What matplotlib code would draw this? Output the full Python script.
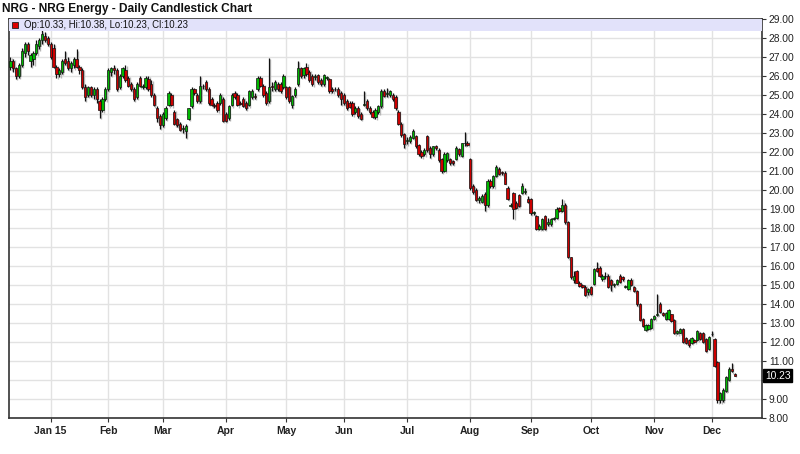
import numpy as np
import pandas as pd
import matplotlib
matplotlib.use("Agg")
import matplotlib.pyplot as plt
import matplotlib.transforms as mtransforms

plt.rcParams['font.family'] = ['Liberation Sans', 'DejaVu Sans']

title = "NRG - NRG Energy - Daily Candlestick Chart"
legend_text = "Op:10.33, Hi:10.38, Lo:10.23, Cl:10.23"
last_price = 10.23

holidays = ["2014-12-25", "2015-01-01", "2015-01-19", "2015-02-16", "2015-04-03",
            "2015-05-25", "2015-07-03", "2015-09-07", "2015-11-26"]
dates = pd.bdate_range("2014-12-11", "2015-12-11")
dates = dates[~dates.isin(pd.to_datetime(holidays))]

opens = [
    26.5, 26.8, 26.4, 26.0, 26.6, 27.2, 27.7, 26.8, 26.9, 27.2,
    27.6, 27.9, 28.1, 28.0, 27.7, 27.5, 26.5, 26.1, 26.2, 26.9,
    26.8, 26.4, 26.6, 26.9, 26.5, 26.3, 25.4, 25.0, 25.4, 25.0,
    25.3, 24.7, 24.2, 24.8, 25.3, 26.2, 26.4, 26.3, 25.4, 26.0,
    26.3, 25.9, 25.6, 25.3, 24.9, 25.9, 25.4, 25.4, 25.85, 25.6,
    25.0, 24.3, 23.9, 23.4, 23.8, 24.5, 25.0, 24.1, 23.75, 23.5,
    23.2, 23.1, 23.75, 24.4, 25.3, 25.0, 24.7, 25.5, 25.7, 25.3,
    24.8, 24.5, 24.6, 24.6, 24.8, 24.0, 23.8, 24.5, 25.1, 25.0,
    24.6, 24.8, 24.6, 24.5, 24.9, 24.95, 25.3, 25.9, 25.5, 25.1,
    24.7, 25.5, 25.3, 25.6, 25.6, 25.4, 25.4, 25.4, 24.5, 25.0,
    25.6, 26.4, 26.05, 26.5, 26.2, 26.0, 25.95, 26.05, 25.8, 25.6,
    25.9, 25.85, 25.3, 25.3, 25.3, 25.1, 25.0, 24.7, 24.6, 24.6,
    24.1, 24.3, 24.0, 24.5, 24.7, 24.3, 24.1, 23.85, 24.1, 24.4,
    25.2, 25.05, 25.0, 25.0, 24.9, 24.1, 23.5, 22.95, 22.6, 22.6,
    22.75, 22.85, 22.35, 22.0, 21.9, 22.85, 22.2, 21.9, 22.3, 22.1,
    21.65, 21.0, 21.6, 21.65, 21.55, 21.65, 22.15, 21.8, 22.45, 22.45,
    21.65, 20.2, 20.0, 19.45, 19.35, 19.8, 19.2, 20.5, 20.2, 20.75,
    21.1, 20.95, 20.9, 20.1, 19.15, 19.85, 19.3, 19.75, 19.85, 19.9,
    19.55, 19.55, 18.8, 18.65, 17.95, 17.95, 18.65, 18.2, 18.2, 18.5,
    18.55, 19.05, 18.9, 19.2, 18.3, 16.45, 15.25, 15.75, 15.1, 15.0,
    14.9, 14.65, 14.9, 15.05, 15.9, 15.9, 15.3, 15.45, 15.5, 15.25,
    15.0, 15.05, 15.45, 15.4, 14.9, 14.8, 15.25, 14.9, 14.7, 14.0,
    13.2, 12.65, 12.7, 12.75, 13.2, 13.4, 14.0, 13.55, 13.2, 13.2,
    13.45, 13.15, 12.45, 12.5, 12.7, 12.2, 12.1, 11.95, 12.1, 12.1,
    12.5, 12.5, 12.15, 11.65, 12.4, 12.15, 10.95, 8.95, 8.95, 9.4,
    10.0, 10.6, 10.33,
]
highs = [
    27.0, 26.9, 26.5, 26.7, 27.5, 27.8, 27.8, 27.2, 27.3, 27.9,
    28.0, 28.4, 28.3, 28.1, 27.8, 27.7, 26.6, 26.4, 26.9, 27.3,
    27.0, 26.8, 27.0, 27.4, 26.6, 26.4, 25.6, 25.5, 25.5, 25.4,
    25.4, 24.8, 24.9, 25.4, 26.4, 26.5, 26.6, 26.4, 26.1, 26.5,
    26.6, 26.0, 25.7, 25.4, 25.7, 26.0, 25.6, 26.0, 26.0, 25.8,
    25.1, 24.4, 24.0, 24.1, 24.4, 25.2, 25.1, 24.2, 23.8, 23.6,
    23.4, 23.5, 24.3, 25.4, 25.35, 25.1, 26.0, 25.6, 25.8, 25.4,
    24.9, 24.6, 24.7, 25.1, 24.9, 24.1, 24.5, 25.1, 25.2, 25.1,
    24.7, 24.9, 24.7, 25.25, 25.3, 25.1, 26.0, 26.0, 25.6, 25.2,
    26.95, 25.7, 25.8, 25.7, 25.7, 26.1, 25.5, 25.5, 25.0, 25.4,
    26.8, 26.5, 26.5, 26.7, 26.3, 26.1, 26.1, 26.1, 25.9, 26.1,
    26.0, 25.9, 25.4, 25.4, 25.4, 25.2, 25.1, 24.8, 24.7, 24.7,
    24.4, 24.4, 24.1, 25.2, 24.8, 24.4, 24.2, 24.3, 24.5, 25.3,
    25.3, 25.35, 25.25, 25.1, 25.0, 24.2, 23.6, 23.0, 22.8, 22.9,
    23.2, 22.9, 22.4, 22.1, 22.2, 22.9, 22.3, 22.3, 22.35, 22.2,
    21.7, 22.0, 22.0, 21.7, 21.6, 22.3, 22.2, 22.5, 23.05, 22.6,
    21.7, 20.3, 20.1, 19.7, 19.8, 19.9, 20.6, 20.6, 20.8, 21.3,
    21.2, 21.0, 21.0, 20.2, 19.3, 19.9, 19.4, 19.8, 20.35, 20.1,
    19.7, 19.6, 18.9, 18.7, 18.2, 18.55, 18.7, 18.55, 18.55, 18.6,
    19.1, 19.1, 19.55, 19.3, 18.35, 16.5, 15.75, 15.8, 15.2, 15.05,
    15.0, 14.85, 14.95, 15.9, 16.2, 16.0, 15.6, 15.7, 15.6, 15.3,
    15.1, 15.3, 15.6, 15.5, 15.0, 15.3, 15.35, 14.95, 14.75, 14.05,
    13.25, 12.95, 12.95, 13.25, 13.4, 14.55, 14.1, 13.6, 13.6, 13.75,
    13.5, 13.2, 12.65, 12.75, 12.75, 12.25, 12.15, 12.25, 12.15, 12.65,
    12.55, 12.55, 12.2, 12.3, 12.6, 12.2, 11.0, 9.35, 9.6, 10.2,
    10.7, 10.9, 10.38,
]
lows = [
    26.3, 26.2, 25.85, 25.9, 26.5, 27.0, 27.1, 26.5, 26.6, 27.1,
    27.4, 27.7, 27.8, 27.6, 26.9, 26.4, 25.9, 25.95, 26.1, 26.6,
    26.3, 26.2, 26.4, 26.4, 26.1, 25.3, 24.7, 24.9, 24.9, 24.8,
    24.6, 23.8, 24.1, 24.7, 25.2, 26.0, 26.1, 25.2, 25.3, 25.9,
    25.7, 25.4, 25.2, 24.7, 24.8, 25.4, 25.3, 25.3, 25.2, 24.9,
    24.4, 23.6, 23.2, 23.3, 23.7, 24.4, 24.4, 23.4, 23.3, 23.1,
    23.0, 22.75, 23.7, 24.3, 25.0, 24.6, 24.6, 25.3, 25.2, 24.5,
    24.4, 24.3, 24.1, 24.5, 23.6, 23.6, 23.7, 24.4, 24.8, 24.4,
    24.5, 24.35, 24.2, 24.4, 24.8, 24.8, 25.2, 25.4, 24.9, 24.5,
    24.6, 25.2, 25.2, 25.2, 25.1, 25.3, 24.8, 24.6, 24.3, 24.9,
    25.5, 25.9, 25.9, 26.0, 25.7, 25.5, 25.8, 25.6, 25.5, 25.5,
    25.8, 25.1, 25.1, 25.2, 24.9, 24.5, 24.5, 24.2, 24.3, 23.9,
    24.0, 23.8, 23.7, 24.4, 24.2, 24.0, 23.8, 23.75, 24.0, 24.3,
    24.9, 24.9, 24.9, 24.7, 24.2, 23.4, 22.8, 22.2, 22.4, 22.5,
    22.7, 22.2, 21.8, 21.7, 21.8, 22.0, 21.7, 21.8, 22.1, 21.5,
    20.9, 20.95, 21.5, 21.3, 21.3, 21.6, 21.8, 21.75, 22.3, 22.3,
    20.0, 19.8, 19.4, 19.3, 19.3, 18.9, 19.1, 20.1, 20.1, 20.7,
    20.8, 20.8, 20.3, 19.5, 19.1, 18.5, 19.0, 19.1, 19.8, 19.8,
    19.3, 18.7, 18.7, 17.9, 17.9, 17.9, 17.9, 18.1, 18.1, 18.4,
    18.5, 18.85, 18.85, 18.2, 16.4, 15.3, 15.1, 15.1, 14.9, 14.85,
    14.4, 14.5, 14.5, 15.0, 15.7, 15.4, 15.2, 15.3, 14.85, 14.7,
    14.9, 15.0, 15.1, 15.2, 14.85, 14.75, 14.95, 14.65, 13.9, 13.1,
    12.8, 12.6, 12.65, 12.7, 13.15, 13.35, 13.55, 13.35, 13.15, 13.15,
    13.05, 12.4, 12.4, 12.45, 11.95, 11.9, 11.75, 11.9, 11.95, 12.05,
    12.1, 11.95, 11.5, 11.6, 12.3, 10.7, 8.8, 8.8, 8.85, 9.35,
    9.95, 10.4, 10.23,
]
closes = [
    26.8, 26.4, 26.0, 26.6, 27.3, 27.7, 27.3, 27.1, 27.2, 27.7,
    27.9, 28.2, 27.9, 27.7, 27.0, 26.5, 26.1, 26.3, 26.8, 26.7,
    26.4, 26.7, 26.9, 26.5, 26.3, 25.4, 24.9, 25.4, 25.0, 25.3,
    24.8, 24.2, 24.8, 25.3, 26.3, 26.4, 26.3, 25.3, 26.0, 26.4,
    25.8, 25.5, 25.3, 24.8, 25.6, 25.5, 25.45, 25.9, 25.3, 25.0,
    24.5, 23.8, 23.4, 24.0, 24.3, 25.1, 24.5, 23.5, 23.4, 23.15,
    23.2, 23.35, 24.3, 25.3, 25.1, 24.7, 25.5, 25.45, 25.3, 24.6,
    24.5, 24.4, 24.2, 25.0, 23.65, 23.65, 24.4, 25.0, 24.9, 24.5,
    24.55, 24.4, 24.3, 25.2, 25.2, 24.9, 25.9, 25.5, 25.0, 24.6,
    25.4, 25.4, 25.7, 25.3, 25.2, 26.0, 24.9, 24.7, 24.95, 25.3,
    26.4, 26.0, 26.4, 26.1, 25.8, 25.6, 25.95, 25.7, 25.6, 26.05,
    25.9, 25.2, 25.2, 25.3, 25.0, 24.8, 24.6, 24.3, 24.35, 24.0,
    24.3, 23.9, 23.75, 24.55, 24.3, 24.1, 23.85, 24.2, 24.4, 25.2,
    24.95, 25.05, 25.2, 24.8, 24.3, 23.5, 22.9, 22.4, 22.6, 22.8,
    23.1, 22.3, 21.9, 21.8, 22.1, 22.1, 21.9, 22.3, 22.2, 21.6,
    21.0, 21.9, 21.95, 21.4, 21.4, 22.2, 21.9, 22.45, 22.5, 22.35,
    20.1, 19.9, 19.45, 19.6, 19.7, 19.2, 20.5, 20.2, 20.75, 21.2,
    20.85, 20.9, 20.3, 19.55, 19.2, 19.0, 19.05, 19.15, 20.2, 19.9,
    19.35, 18.8, 18.85, 17.95, 18.1, 18.5, 17.95, 18.3, 18.5, 18.5,
    19.0, 18.9, 19.2, 18.3, 16.45, 15.4, 15.5, 15.1, 14.95, 14.9,
    14.45, 14.8, 14.55, 15.85, 15.75, 15.45, 15.5, 15.45, 14.9, 15.0,
    15.05, 15.25, 15.15, 15.3, 14.9, 15.25, 15.0, 14.7, 14.0, 13.15,
    12.85, 12.9, 12.9, 13.2, 13.35, 13.5, 13.6, 13.4, 13.55, 13.7,
    13.1, 12.45, 12.6, 12.7, 12.0, 11.95, 11.85, 12.2, 12.0, 12.6,
    12.15, 12.0, 11.55, 12.25, 12.4, 10.75, 8.95, 9.3, 9.5, 10.15,
    10.6, 10.45, 10.23,
]

month_labels = ["Jan 15", "Feb", "Mar", "Apr", "May", "Jun",
                "Jul", "Aug", "Sep", "Oct", "Nov", "Dec"]
y_ticks = list(range(8, 30))

n = len(closes)
o = np.array(opens); h = np.array(highs); l = np.array(lows); c = np.array(closes)
x = np.arange(n)

fig = plt.figure(figsize=(8.0, 4.54), dpi=100)
ax = fig.add_axes([9 / 800, 1 - 418 / 454, 753 / 800, 399 / 454])

ax.set_xlim(-0.5, 261.5)
ax.set_ylim(8, 29)

# month ticks
month_pos = []
for m in range(1, 13):
    idx = np.where((dates.year == 2015) & (dates.month == m))[0][0]
    month_pos.append(idx)
ax.set_xticks(month_pos)
ax.set_xticklabels(month_labels, fontweight='bold', fontsize=7.5, color='#222222')
ax.set_yticks(y_ticks)
ax.set_yticklabels(["" if v == 10 else f"{v:.2f}" for v in y_ticks], fontsize=7.4, color='#222222')
ax.yaxis.tick_right()
ax.tick_params(axis='y', length=3, width=0.8, color='#333333', pad=2)
ax.tick_params(axis='x', length=3, width=0.8, color='#333333', pad=3)
ax.grid(True, color='#e2e2e2', linewidth=1.0, zorder=0)
ax.set_axisbelow(True)
for s in ax.spines.values():
    s.set_color('#333333')
    s.set_linewidth(1.2)

up = c >= o
body_lo = np.minimum(o, c)
body_h = np.maximum(np.abs(c - o), 0.04)
colors = np.where(up, '#00b800', '#cc0000')

# shadow
ax.vlines(x + 0.45, l - 0.06, h - 0.06, color='#b8b8b8', linewidth=1.0, zorder=1)
ax.bar(x + 0.45, body_h, bottom=body_lo - 0.06, width=0.8, color='#b8b8b8', linewidth=0, zorder=1)
# candles
ax.vlines(x, l, h, color='#111111', linewidth=0.9, zorder=2)
ax.bar(x, body_h, bottom=body_lo, width=0.8, color=colors, edgecolor='#111111', linewidth=0.5, zorder=3)

# header band
band_h = 12 / 399
ax.add_patch(plt.Rectangle((0, 1 - band_h), 1, band_h, transform=ax.transAxes,
                           facecolor='#e2e2fa', edgecolor='none', zorder=4))
ax.plot([0.0085], [1 - band_h / 2], marker='s', markersize=5, markerfacecolor='#dd0000',
        markeredgecolor='#222222', markeredgewidth=0.6, transform=ax.transAxes, zorder=5, clip_on=False)
ax.text(0.02, 1 - band_h / 2, legend_text, transform=ax.transAxes, fontsize=6.9,
        color='#111111', va='center', ha='left', zorder=5)

# last price box
trans = mtransforms.blended_transform_factory(ax.transAxes, ax.transData)
ax.text(1.004, last_price, f"{last_price:.2f}", transform=trans, fontsize=7.4, color='white',
        va='center', ha='left', zorder=6,
        bbox=dict(boxstyle='square,pad=0.15', facecolor='black', edgecolor='black'))

fig.text(0.002, 1 - 9 / 454, title, fontsize=8.6, fontweight='bold', color='#111111',
         va='center', ha='left')

fig.savefig("out.png", dpi=100)
